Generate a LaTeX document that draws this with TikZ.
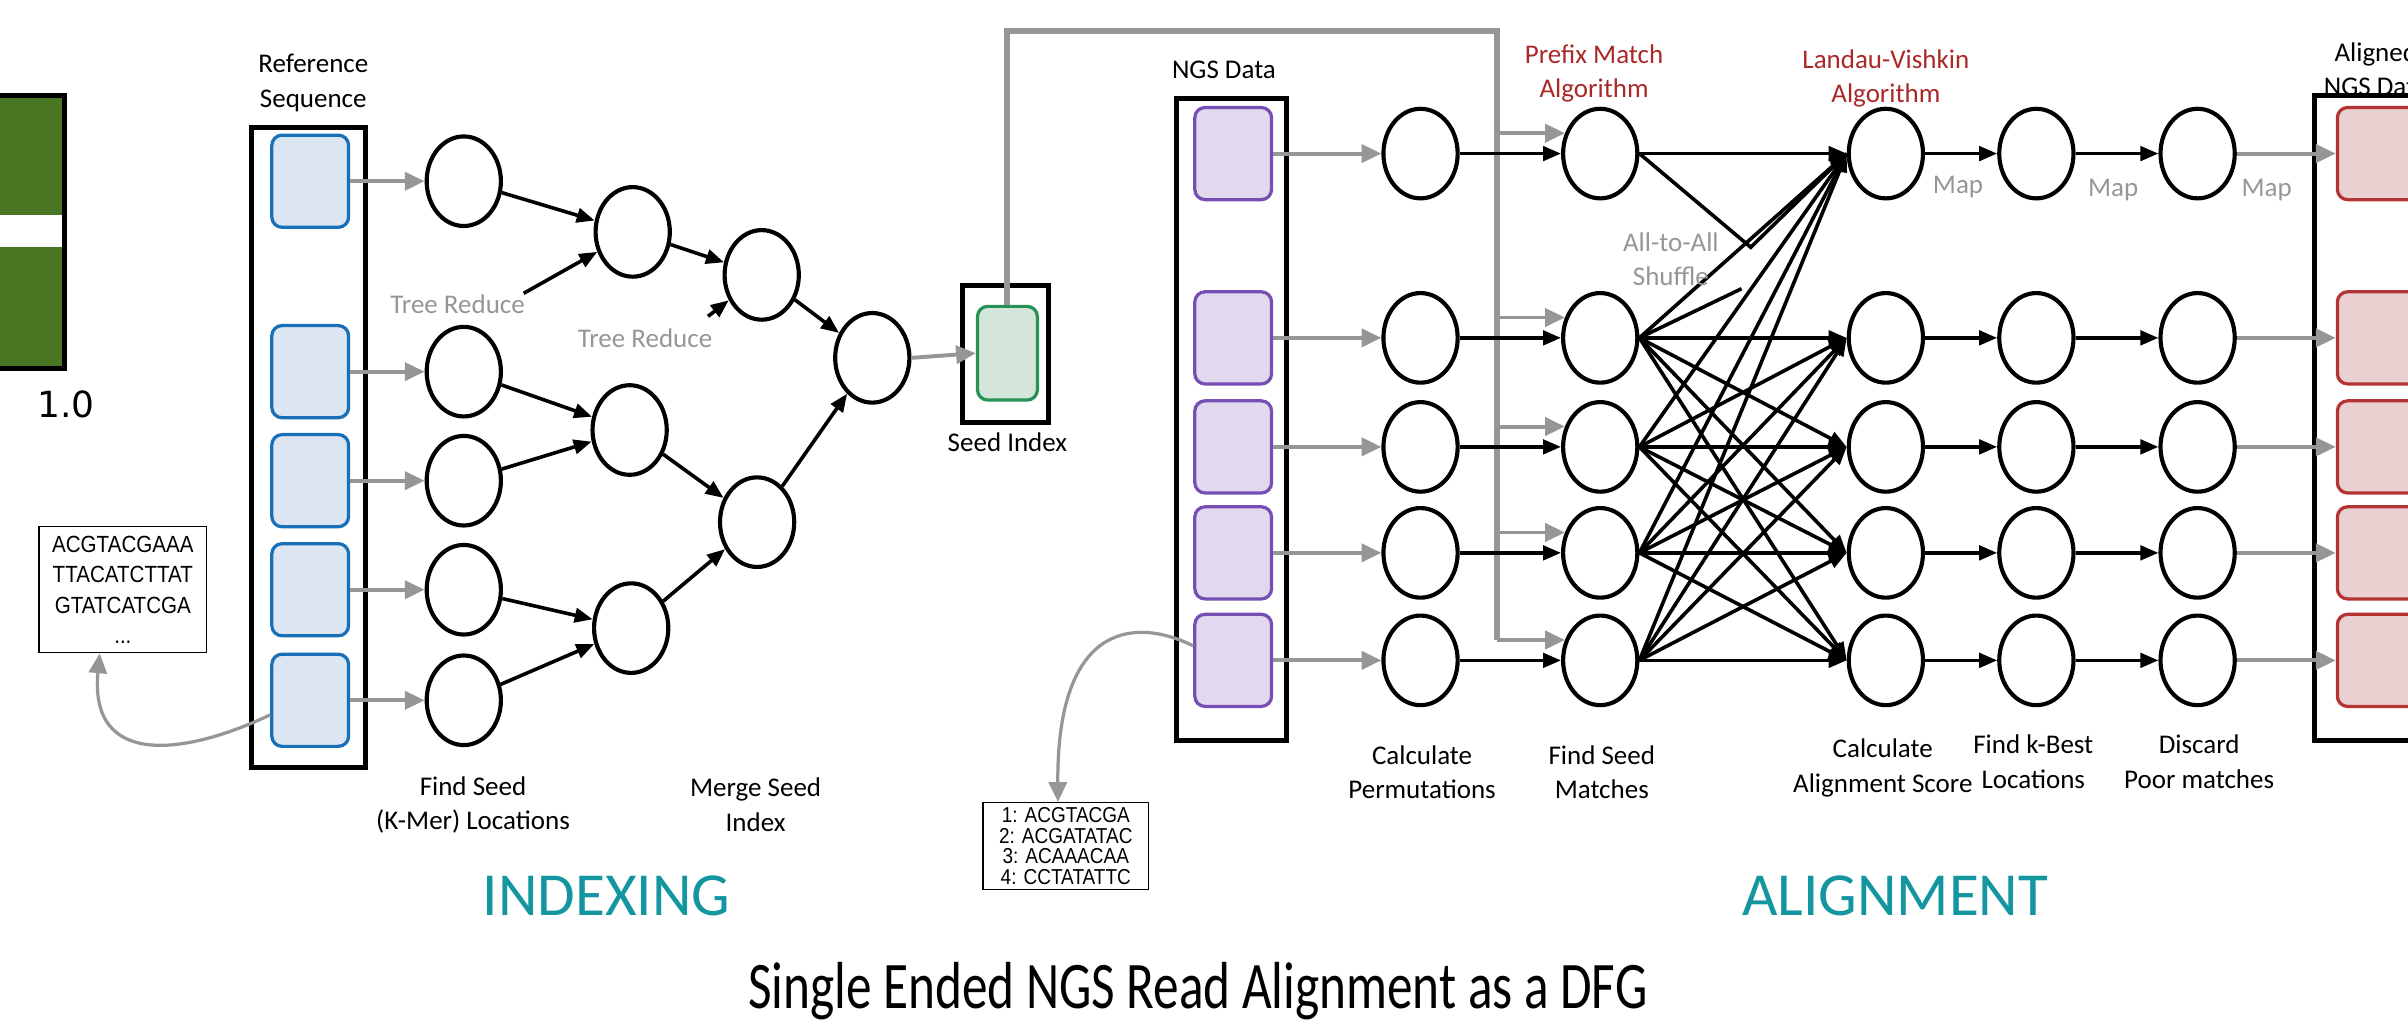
\documentclass[tikz,border=0pt]{standalone}
\usepackage{fontspec}
\setmainfont{Carlito}
\newfontfamily\seqfont[FakeStretch=0.88]{Liberation Sans}
\newfontfamily\numfont{DejaVu Sans}
\usepackage{graphicx}
\usetikzlibrary{arrows.meta,shapes.geometric}

\definecolor{leafgreen}{RGB}{74,118,35}
\definecolor{refblue}{RGB}{24,112,184}
\definecolor{reffill}{RGB}{220,230,242}
\definecolor{ngspurple}{RGB}{118,78,180}
\definecolor{ngsfill}{RGB}{226,217,238}
\definecolor{seedgreen}{RGB}{40,145,85}
\definecolor{seedfill}{RGB}{212,230,220}
\definecolor{alnred}{RGB}{180,52,52}
\definecolor{alnfill}{RGB}{234,208,208}
\definecolor{flowgray}{RGB}{150,150,150}
\definecolor{algred}{RGB}{170,40,40}
\definecolor{phaseteal}{RGB}{20,150,160}

\tikzset{
  stage/.style={ellipse, draw, line width=2.3pt, fill=white, inner sep=0pt, minimum width=1.45cm, minimum height=1.75cm},
  panel/.style={draw, line width=2.8pt},
  refbox/.style={rectangle, rounded corners=0.2cm, draw=refblue, fill=reffill, line width=1.8pt, minimum width=1.5cm, minimum height=1.8cm},
  ngsbox/.style={refbox, draw=ngspurple, fill=ngsfill},
  alnbox/.style={refbox, draw=alnred, fill=alnfill, minimum width=2.4cm},
  seedbox/.style={refbox, draw=seedgreen, fill=seedfill, minimum width=1.17cm, minimum height=1.83cm},
  blk/.style={-{Triangle[length=10pt,width=8pt]}, line width=2pt},
  gry/.style={-{Triangle[length=11pt,width=10pt]}, line width=2.2pt, color=flowgray},
  lbl/.style={font=\fontsize{15}{19}\selectfont, align=center, inner sep=0pt},
  note/.style={lbl, text=flowgray},
  alg/.style={lbl, text=algred},
  phase/.style={font=\fontsize{34}{40}\selectfont, text=phaseteal, inner sep=0pt},
  seqtext/.style={draw, line width=0.8pt, align=center, inner sep=0pt},
}

\begin{document}
\begin{tikzpicture}[x=0.03cm,y=-0.03cm]
%%%%% START %%%%%
\useasboundingbox (0,0) rectangle (1568,666);

% cut-off panel on the left
\fill[leafgreen] (-10,62) rectangle (42,240);
\fill[white] (-10,140) rectangle (42,161);
\draw[panel] (-10,62) rectangle (42,240);
\node[font=\numfont\fontsize{20}{24}\selectfont, anchor=base, inner sep=0pt] (scale) at (43,272) {1.0};

% indexing
\draw[panel] (164,83) rectangle (238,500);
\node[lbl] (reflbl) at (204,54) {Reference\\Sequence};
\foreach \y [count=\i] in {118,242,313,384,456} {
  \node[refbox] (r\i) at (202,\y) {};
  \node[stage] (f\i) at (302,\y) {};
  \draw[gry] (r\i.east) -- (f\i.west);
}

\node[stage] (b1) at (412,151) {};
\node[stage] (b2) at (410,280) {};
\node[stage] (b3) at (411,409) {};
\node[stage] (c1) at (496,179) {};
\node[stage] (c2) at (493,340) {};
\node[stage] (mrg) at (568,233) {};
\coordinate (tr1) at (341,191);
\coordinate (tr2) at (461,206);

\draw[blk] (f1) -- (b1);
\draw[blk] (f2) -- (b2);
\draw[blk] (f3) -- (b2);
\draw[blk] (f4) -- (b3);
\draw[blk] (f5) -- (b3);
\draw[blk] (b1) -- (c1);
\draw[blk] (b2) -- (c2);
\draw[blk] (b3) -- (c2);
\draw[blk] (c1) -- (mrg);
\draw[blk] (c2) -- (mrg);
\draw[blk] (tr1) -- (b1);
\draw[blk] (tr2) -- (c1);

\node[note] (tree1) at (298,198) {Tree Reduce};
\node[note] (tree2) at (420,220) {Tree Reduce};
\node[lbl] (findlbl) at (308,524) {Find Seed\\(K-Mer) Locations};
\node[lbl] (mergelbl) at (492,524) {Merge Seed\\Index};
\node[phase, anchor=base] (indexing) at (395,596) {INDEXING};

\node[seqtext, minimum width=3.27cm, minimum height=2.46cm, font=\seqfont\fontsize{13}{17}\selectfont] (seq) at (80,384) {ACGTACGAAA\\TTACATCTTAT\\GTATCATCGA\\...};
\draw[gry, line width=1.8pt] (r5.200) .. controls (120,492) and (58,500) .. (seq.-110);

% seed index
\draw[panel] (627,186) rectangle (683,275);
\node[seedbox] (seed) at (656,230) {};
\node[lbl, anchor=base] (seedlbl) at (656,294) {Seed Index};
\draw[gry] (mrg.east) -- (seed.west);

% alignment
\draw[panel] (766,64) rectangle (838,482);
\draw[panel] (1600,62) -- (1507,62) -- (1507,482) -- (1600,482);
\foreach \y [count=\i] in {100,220,291,360,430} {
  \node[ngsbox] (n\i) at (803,\y) {};
  \node[stage] (cp\i) at (925,\y) {};
  \node[stage] (sm\i) at (1042,\y) {};
  \node[stage] (lv\i) at (1228,\y) {};
  \node[stage] (kb\i) at (1326,\y) {};
  \node[stage] (dc\i) at (1431,\y) {};
  \node[alnbox] (al\i) at (1562,\y) {};
}

\coordinate (busL) at (656,20);
\coordinate (busR) at (975,20);
\draw[flowgray, line width=3.3pt] (seed.north) -- (busL) -- (busR) -- (busR |- sm5.150);

\foreach \i in {1,...,5} {
  \draw[gry] (n\i.east) -- (cp\i.west);
  \draw[gry] (busR |- sm\i.150) -- (sm\i.150);
  \draw[blk] (cp\i.east) -- (sm\i.west);
  \draw[blk] (lv\i.east) -- (kb\i.west);
  \draw[blk] (kb\i.east) -- (dc\i.west);
  \draw[gry] (dc\i.east) -- (al\i.west);
}

% all-to-all shuffle
\draw[blk] (sm1.east) -- (lv1.west);
\foreach \i in {2,...,5}
  \foreach \j in {1,...,5}
    \draw[blk] (sm\i.east) -- (lv\j.west);
\coordinate (dip) at (1140,161);
\coordinate (stub) at (1134,188);
\draw[line width=2pt] (sm1.east) -- (dip) -- (lv1.west);
\draw[line width=2pt] (sm2.east) -- (stub);

\node[seqtext, minimum width=3.24cm, minimum height=1.7cm, font=\seqfont\fontsize{12}{11.5}\selectfont] (reads) at (694,551) {1: ACGTACGA\\2: ACGATATAC\\3: ACAAACAA\\4: CCTATATTC};
\draw[gry, line width=1.8pt] (n5.160) .. controls (735,400) and (688,410) .. (reads.100);

\node[lbl, anchor=base] (ngslbl) at (797,51) {NGS Data};
\node[alg] (prefix) at (1038,48) {Prefix Match\\Algorithm};
\node[alg] (landau) at (1228,51) {Landau-Vishkin\\Algorithm};
\node[note] (shuffle) at (1088,169) {All-to-All\\Shuffle};
\node[note] (map1) at (1275,122) {Map};
\node[note] (map2) at (1376,124) {Map};
\node[note] (map3) at (1476,124) {Map};
\node[lbl] (aligned) at (1547,45) {Aligned\\NGS Data};

\node[lbl] (permlbl) at (926,503) {Calculate\\Permutations};
\node[lbl] (matchlbl) at (1043,503) {Find Seed\\Matches};
\node[lbl] (scorelbl) at (1226,500) {Calculate\\Alignment Score};
\node[lbl] (bestlbl) at (1324,496) {Find k-Best\\Locations};
\node[lbl] (poorlbl) at (1432,496) {Discard\\Poor matches};
\node[phase, anchor=base] (alignment) at (1234,596) {ALIGNMENT};

\node[font=\fontsize{37}{44}\selectfont, anchor=base, inner sep=0pt] (title) at (780,657) {\scalebox{0.77}[1]{Single Ended NGS Read Alignment as a DFG}};
%%%%% END %%%%%
\end{tikzpicture}
\end{document}
